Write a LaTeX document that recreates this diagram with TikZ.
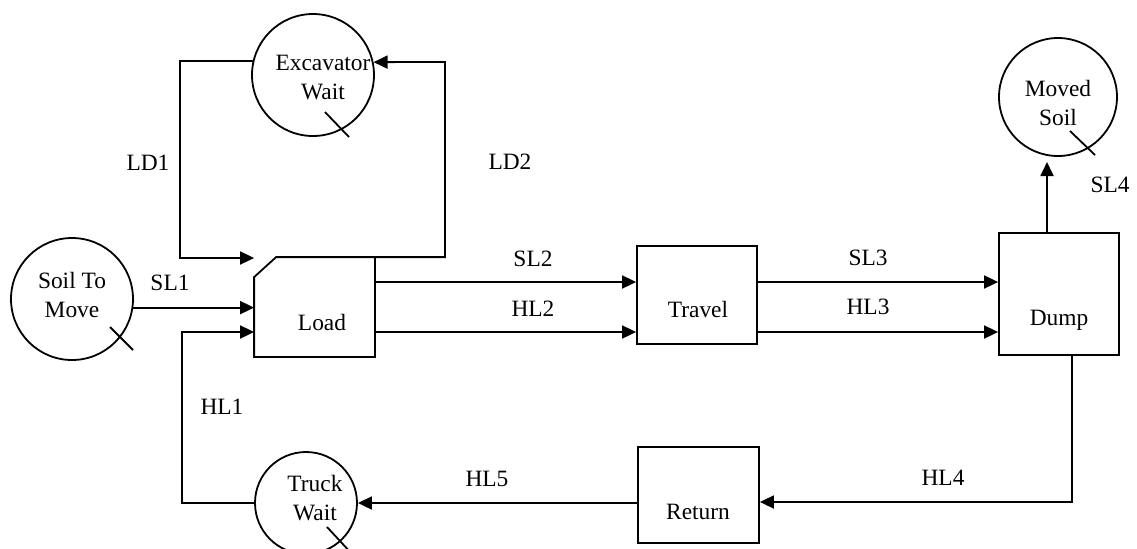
\documentclass[tikz,border=0pt]{standalone}
\usepackage{fontspec}
\setmainfont{Liberation Serif}
\usetikzlibrary{arrows.meta}
\begin{document}
\begin{tikzpicture}[x=0.5pt,y=-0.5pt,
  line width=0.9pt,
  every node/.style={font=\fontsize{11.7}{14.5}\selectfont, inner sep=0pt},
  circ/.style={draw, circle, line width=0.9pt},
  box/.style={draw, rectangle, line width=0.9pt},
  ghost/.style={rectangle},
  txt/.style={align=center},
  arr/.style={-{Triangle[length=7pt,width=6.5pt]}}]
\useasboundingbox (0,0) rectangle (1137,548);
% circles
\node[circ, minimum size=61pt] (exc) at (313,75) {};
\node[circ, minimum size=61pt] (soil) at (72,299) {};
\node[circ, minimum size=51pt] (truck) at (306,503) {};
\node[circ, minimum size=59pt] (moved) at (1058,97) {};
% circle texts
\node[txt] (exct) at (323,78) {Excavator\\Wait};
\node[txt] (soilt) at (72,295) {Soil To\\Move};
\node[txt] (truckt) at (315,498) {Truck\\Wait};
\node[txt] (movedt) at (1058,103) {Moved\\Soil};
% circle ticks
\draw ([shift={(12,37)}]exc.center) -- ++(24,25);
\draw ([shift={(38,28)}]soil.center) -- ++(23,23);
\draw ([shift={(21,24)}]truck.center) -- ++(26,28);
\draw ([shift={(12,34)}]moved.center) -- ++(25,24);
% boxes
\node[ghost, minimum width=59.5pt, minimum height=49pt] (load) at (314.5,307) {};
\draw (load.south west) -- ([yshift=-10pt]load.north west) -- ([xshift=11pt]load.north west) -- (load.north east) -- (load.south east) -- cycle;
\node (loadt) at (322,322) {Load};
\node[box, minimum width=60pt, minimum height=49pt] (travel) at (697,295) {};
\node (travelt) at (698,309) {Travel};
\node[box, minimum width=60pt, minimum height=61pt] (dump) at (1059,294) {};
\node (dumpt) at (1059,320) {Dump};
\node[box, minimum width=60.5pt, minimum height=48pt] (ret) at (698.5,495) {};
\node (rett) at (698,512) {Return};
% coordinates
\coordinate (cLD1) at (180,258);
\coordinate (cLD2) at (445,62);
\coordinate (cHL1) at (182,332);
\coordinate (ySL) at (0,282);
\coordinate (yHL) at (0,332);
\coordinate (cSL4) at (1047,162);
\coordinate (cHL4) at (1072,502);
% connectors
\draw[arr] (exc.167.7) -| (cLD1) -- (load.west |- cLD1);
\draw[arr] (load.north east) -| (cLD2) -- (exc.12.3);
\draw[arr] (soil.-8.5) -- (load.west |- soil.-8.5);
\draw[arr] (truck.west) -| (cHL1) -- (load.west |- cHL1);
\draw[arr] (load.east |- ySL) -- (travel.west |- ySL);
\draw[arr] (load.east |- yHL) -- (travel.west |- yHL);
\draw[arr] (travel.east |- ySL) -- (dump.west |- ySL);
\draw[arr] (travel.east |- yHL) -- (dump.west |- yHL);
\draw[arr] (dump.north -| cSL4) -- (cSL4);
\draw[arr] (dump.south -| cHL4) -- (cHL4) -- (ret.east |- cHL4);
\draw[arr] (ret.west |- truck.east) -- (truck.east);
% labels
\node (lLD1) at (148,163) {LD1};
\node (lLD2) at (510,162) {LD2};
\node (lSL1) at (170,283) {SL1};
\node (lHL1) at (222,407) {HL1};
\node (lSL2) at (533,259) {SL2};
\node (lHL2) at (533,309) {HL2};
\node (lSL3) at (868,258) {SL3};
\node (lHL3) at (868,307) {HL3};
\node (lSL4) at (1110,185) {SL4};
\node (lHL4) at (943,478) {HL4};
\node (lHL5) at (487,479) {HL5};
\end{tikzpicture}
\end{document}
